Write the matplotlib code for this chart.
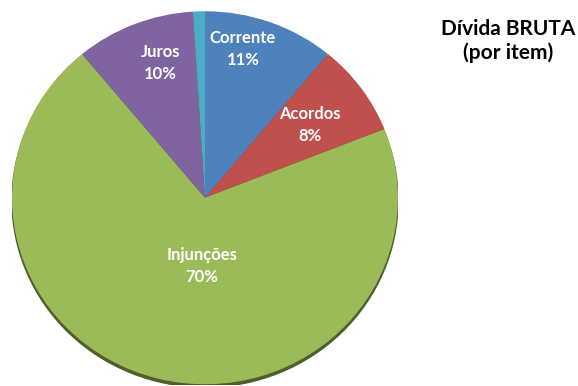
import numpy as np
import matplotlib.pyplot as plt
from matplotlib.patches import Ellipse

# --- data ---
labels = ["Corrente", "Acordos", "Injunções", "Juros", ""]
values = [11, 8, 70, 10, 1]
colors = ["#4F81BD", "#C0504D", "#9BBB59", "#8064A2", "#4BACC6"]
label_dist = [0.825, 0.67, 0.36, 0.76, None]
label_shift = [6, 0, 12, -4, 0]  # degrees, label placement nudge
title = "Dívida BRUTA\n(por item)"

fig = plt.figure(figsize=(5.78, 3.86), dpi=100)
ax = fig.add_axes([12 / 578, 1 / 386, 386 / 578, 373 / 386])

# dark rim underneath to mimic the bevel / shadow
ax.add_patch(Ellipse((0, -0.012), 2.0, 2.0, color="#4f5f2c", zorder=0))

wedges, _ = ax.pie(values, colors=colors, startangle=90, counterclock=False,
                   radius=1, wedgeprops=dict(linewidth=0), center=(0, 0.004))
for w in wedges:
    w.set_zorder(1)

ax.set_aspect("auto")
ax.set_xlim(-1, 1)
ax.set_ylim(-1, 1)
ax.axis("off")

total = sum(values)
for w, lab, v, d, s in zip(wedges, labels, values, label_dist, label_shift):
    if d is None:
        continue
    ang = np.radians((w.theta1 + w.theta2) / 2 + s)
    x, y = d * np.cos(ang), d * np.sin(ang)
    ax.text(x, y, f"{lab}\n{v / total * 100:.0f}%", ha="center", va="center",
            color="white", fontsize=12, fontweight="bold", family="Lato",
            linespacing=1.45, zorder=3)

fig.text(508 / 578, 1 - 41 / 386, title, ha="center", va="center",
         fontsize=15, fontweight="bold", family="Lato", linespacing=1.25)

fig.savefig("out.png", dpi=100)
